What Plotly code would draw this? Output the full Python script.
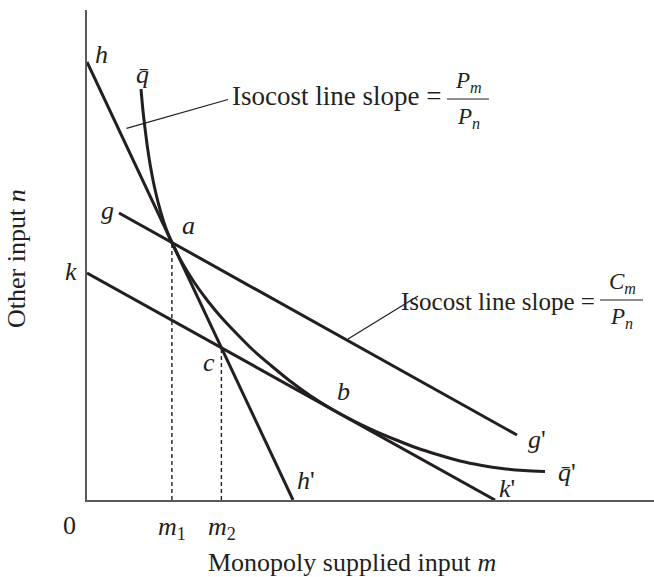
import plotly.graph_objects as go

# ---------------- data (units: m along x, n along y) ----------------
M_MAX, N_MAX = 567, 490          # axis extents
# isocost line hh' (slope P_m/P_n)
h_m = [0, 206]
h_n = [438, 0]
# isocost line gg' (slope C_m/P_n), through a
g_m = [32, 430]
g_n = [287, 65]
# isocost line kk' (parallel to gg'), tangent at b
k_m = [0, 408]
k_n = [227, 0]
# isoquant q-bar
qbar_m = [54, 55.9, 58.1, 60.5, 63.2, 66.2, 69.4, 72.9, 76.6, 80.6, 84.9,
          95, 107, 120, 134, 150, 166, 184, 203, 223, 245,
          266, 287, 308, 330, 352, 373, 395, 415, 437, 458]
qbar_n = [411, 390, 371, 352.5, 335, 319, 304.5, 291, 278.6, 267.4, 257.5,
          237.5, 218, 200, 183, 166, 150, 134.5, 119, 104.5, 90.8,
          79.5, 69.4, 60.5, 52, 45, 39, 34.5, 31.5, 29.5, 28.5]
# points a and c (dashed drop lines to m1, m2)
m1, n_a = 84.9, 257.5
m2, n_c = 134.4, 152.3
# leader lines of the two callouts
lead1_m = [39.5, 141]
lead1_n = [371.7, 400.5]
lead2_m = [261, 331]
lead2_n = [161, 204]
# fraction bars of the callouts
frac1_m = [360, 402]
frac1_n = [401, 401]
frac2_m = [513, 556]
frac2_n = [200, 200]

# point labels: (text, m, n)
point_labels = [
    ("<i>h</i>", 14, 445),
    ("<i>q\u0304</i>", 55, 426),
    ("<i>g</i>", 20, 290),
    ("<i>a</i>", 101, 274),
    ("<i>k</i>", -16, 229),
    ("<i>c</i>", 122, 138),
    ("<i>b</i>", 256, 109),
    ("<i>g</i>'", 450, 61),
    ("<i>q\u0304</i>'", 480, 28),
    ("<i>k</i>'", 420, 12),
    ("<i>h</i>'", 219, 20),
]
tick_labels = [("0", -18, -25), ("<i>m</i><sub>1</sub>", 84.5, -28), ("<i>m</i><sub>2</sub>", 134.5, -28)]

INK = "#231f20"
FONT = "Liberation Serif"

fig = go.Figure()

def line(xs, ys, width=3, dash=None, shape="linear"):
    fig.add_trace(go.Scatter(x=xs, y=ys, mode="lines", hoverinfo="skip",
                             line=dict(color=INK, width=width, dash=dash, shape=shape,
                                       smoothing=0.8 if shape == "spline" else None),
                             showlegend=False, cliponaxis=False))

line(h_m, h_n)
line(g_m, g_n)
line(k_m, k_n)
line(qbar_m, qbar_n, shape="spline")
line([m1, m1], [0, n_a], width=1.4, dash="4px,3px")
line([m2, m2], [0, n_c], width=1.4, dash="4px,3px")
line(lead1_m, lead1_n, width=1.2)
line(lead2_m, lead2_n, width=1.2)
line(frac1_m, frac1_n, width=1.2)
line(frac2_m, frac2_n, width=1.2)

ann = []

def label(text, x, y, size=26, xanchor="center", angle=0):
    # positioned in paper units so labels outside the axes are kept
    ann.append(dict(x=x / M_MAX, y=y / N_MAX, xref="paper", yref="paper", text=text,
                    showarrow=False, xanchor=xanchor, yanchor="middle", textangle=angle,
                    font=dict(family=FONT, size=size, color=INK)))

for t, x, y in point_labels + tick_labels:
    label(t, x, y)

# callout texts
label("Isocost line slope =", 356, 404, size=27, xanchor="right")
label("<i>P<sub>m</sub></i>", 381, 418, size=23)
label("<i>P<sub>n</sub></i>", 381, 382, size=23)

label("Isocost line slope =", 510, 199, size=25, xanchor="right")
label("<i>C<sub>m</sub></i>", 535, 217, size=23)
label("<i>P<sub>n</sub></i>", 534, 182, size=23)

# axis titles
label("Monopoly supplied input <i>m</i>", 119, -62, xanchor="left")
label("Other input <i>n</i>", -71, 241, angle=-90)

fig.update_layout(
    width=654, height=577,
    margin=dict(l=87, r=0, t=10, b=77),
    paper_bgcolor="white", plot_bgcolor="white",
    xaxis=dict(range=[0, M_MAX], showgrid=False, zeroline=False, showticklabels=False,
               ticks="", showline=True, linecolor="#58595b", linewidth=2, fixedrange=True),
    yaxis=dict(range=[0, N_MAX], showgrid=False, zeroline=False, showticklabels=False,
               ticks="", showline=True, linecolor="#58595b", linewidth=2, fixedrange=True),
    annotations=ann,
    showlegend=False,
)

fig.write_html("out.html", config={"displayModeBar": False},
               post_script="document.body.style.margin='0';document.body.style.overflow='hidden';")
